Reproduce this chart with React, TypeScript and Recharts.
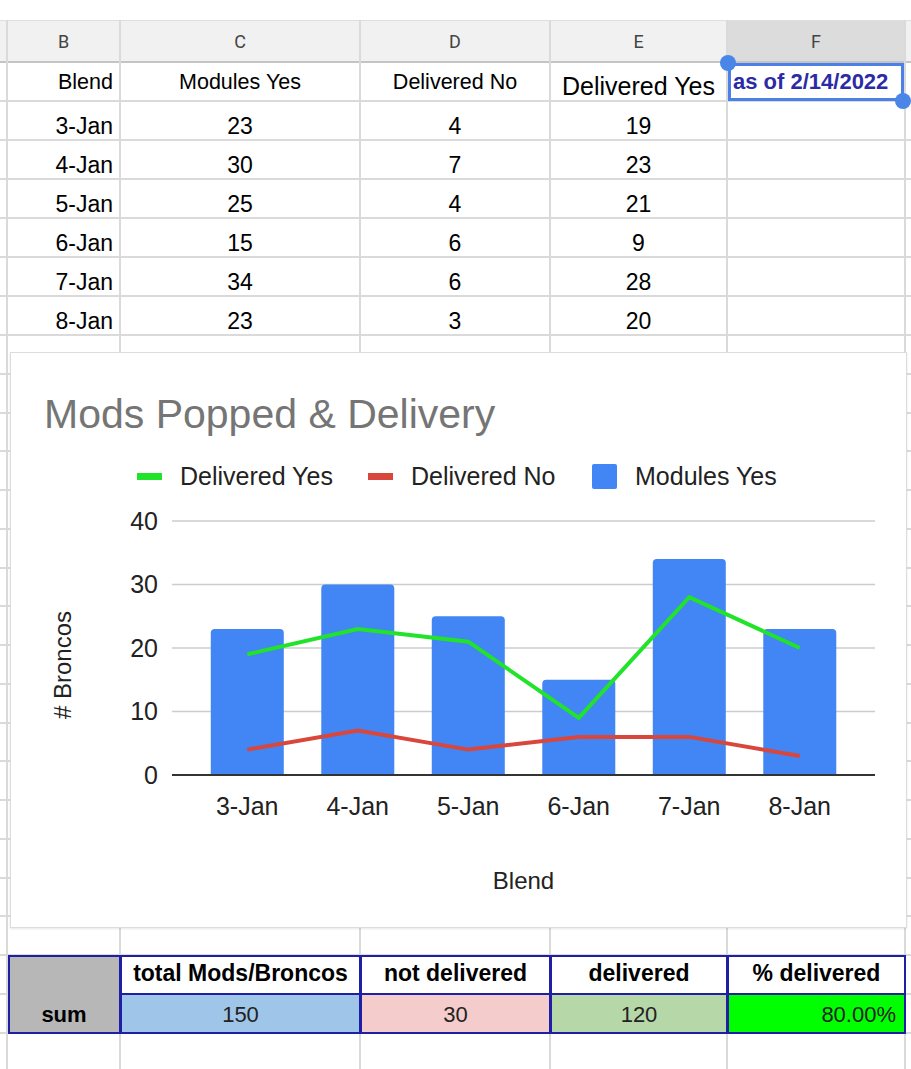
import { ComposedChart, Bar, Line, XAxis, YAxis, CartesianGrid, Legend, Label } from "recharts";

// sheet values
const blends = ["3-Jan", "4-Jan", "5-Jan", "6-Jan", "7-Jan", "8-Jan"];
const modulesYes = [23, 30, 25, 15, 34, 23];
const deliveredNo = [4, 7, 4, 6, 6, 3];
const deliveredYes = [19, 23, 21, 9, 28, 20];
const yTicks = [0, 10, 20, 30, 40];

const columnLetters = ["B", "C", "D", "E", "F"];
const headerLabels = ["Blend", "Modules Yes", "Delivered No", "Delivered Yes"];
const summaryLabels = ["total Mods/Broncos", "not delivered", "delivered", "% delivered"];
const asOfNote = "as of 2/14/2022";
const chartTitle = "Mods Popped & Delivery";
const yTitle = "# Broncos";
const xTitle = "Blend";

const chartData = blends.map((blend, i) => ({
  blend,
  modulesYes: modulesYes[i],
  deliveredNo: deliveredNo[i],
  deliveredYes: deliveredYes[i],
}));

const sum = (arr: number[]) => arr.reduce((a, b) => a + b, 0);
const totalMods = sum(modulesYes);
const totalNo = sum(deliveredNo);
const totalYes = sum(deliveredYes);
const summaryValues = [
  String(totalMods),
  String(totalNo),
  String(totalYes),
  ((totalYes / totalMods) * 100).toFixed(2) + "%",
];

const SHEET_FONT = '"Liberation Sans", Arial, sans-serif';
const CHART_FONT = '"Liberation Sans", Arial, sans-serif';
const BLUE = "#4285f4";
const RED = "#d9463b";
const GREEN = "#21e32a";
const TEXT = "#222222";

const COLS = [7, 120, 360, 550, 727, 905];
const GRID = "#dadada";

// row boundaries of the sheet
const rowLines: number[] = [];
for (let y = 62; y <= 335; y += 39) rowLines.push(y);
for (let y = 335 + 38.75; y < 1069; y += 38.75) rowLines.push(Math.round(y));

interface CellProps {
  x: number;
  y: number;
  w: number;
  h: number;
  text: string;
  align?: "left" | "center" | "right";
  size: number;
  padBottom: number;
  padX?: number;
  bold?: boolean;
  color?: string;
  bg?: string;
  border?: string;
}

function Cell({ x, y, w, h, text, align = "center", size, padBottom, padX = 7, bold, color = "#000", bg, border }: CellProps) {
  return (
    <div
      style={{
        position: "absolute",
        left: x,
        top: y,
        width: w,
        height: h,
        boxSizing: "border-box",
        display: "flex",
        alignItems: "flex-end",
        justifyContent: align === "left" ? "flex-start" : align === "right" ? "flex-end" : "center",
        paddingBottom: padBottom,
        paddingLeft: padX,
        paddingRight: padX,
        fontSize: size,
        lineHeight: 1,
        fontWeight: bold ? 700 : 400,
        color,
        background: bg,
        border,
        whiteSpace: "nowrap",
        overflow: "hidden",
      }}
    >
      {text}
    </div>
  );
}

const legendItems = [
  { label: headerLabels[3], color: GREEN, shape: "line", width: 231 },
  { label: headerLabels[2], color: RED, shape: "line", width: 224 },
  { label: headerLabels[1], color: BLUE, shape: "box", width: 200 },
];

function renderLegend() {
  return (
    <div style={{ display: "flex", alignItems: "center", height: 32, fontFamily: CHART_FONT, fontSize: 25, color: TEXT }}>
      {legendItems.map((item) => (
        <div key={item.label} style={{ display: "flex", alignItems: "center", width: item.width }}>
          {item.shape === "line" ? (
            <div style={{ width: 25, height: 7, background: item.color, marginRight: 18 }} />
          ) : (
            <div style={{ width: 25, height: 25, borderRadius: 2, background: item.color, marginRight: 18 }} />
          )}
          <span style={{ whiteSpace: "nowrap" }}>{item.label}</span>
        </div>
      ))}
    </div>
  );
}

function YTitle(props: any) {
  const vb = props.viewBox || { x: 0, y: 169, width: 162, height: 254 };
  const cx = vb.x + 52;
  const cy = vb.y + vb.height / 2 + 17;
  return (
    <text
      x={cx}
      y={cy}
      transform={`rotate(-90 ${cx} ${cy})`}
      textAnchor="middle"
      dominantBaseline="central"
      fill={TEXT}
      fontSize={24}
      fontFamily={CHART_FONT}
    >
      {yTitle}
    </text>
  );
}

function XTitle(props: any) {
  const vb = props.viewBox || { x: 162, y: 423, width: 703, height: 153 };
  return (
    <text
      x={vb.x + vb.width / 2}
      y={vb.y + 105}
      textAnchor="middle"
      dominantBaseline="central"
      fill={TEXT}
      fontSize={24}
      fontFamily={CHART_FONT}
    >
      {xTitle}
    </text>
  );
}

export default function App() {
  return (
    <div
      style={{
        position: "absolute",
        left: 0,
        top: 0,
        width: 911,
        height: 1069,
        background: "#fff",
        overflow: "hidden",
        fontFamily: SHEET_FONT,
      }}
    >
      {/* column header strip */}
      <div style={{ position: "absolute", left: 0, top: 20, width: 911, height: 42, background: "#f1f1f1" }} />
      <div style={{ position: "absolute", left: COLS[4], top: 20, width: COLS[5] - COLS[4], height: 42, background: "#dcdcdc" }} />
      <div style={{ position: "absolute", left: 0, top: 20, width: 911, height: 1, background: "#dedede" }} />

      {/* grid lines */}
      {rowLines.map((y, i) => (
        <div
          key={"r" + i}
          style={{
            position: "absolute",
            left: 0,
            top: y - 1,
            width: 911,
            height: 2,
            background: i === 0 ? "#c4c4c4" : GRID,
          }}
        />
      ))}
      {COLS.map((x, i) => (
        <div key={"c" + i} style={{ position: "absolute", left: x - 1, top: 20, width: 2, height: 1049, background: GRID }} />
      ))}

      {/* column letters */}
      {columnLetters.map((letter, i) => (
        <div
          key={letter}
          style={{
            position: "absolute",
            left: COLS[i],
            top: 20,
            width: COLS[i + 1] - COLS[i],
            height: 42,
            display: "flex",
            alignItems: "center",
            justifyContent: "center",
            fontFamily: "Roboto, sans-serif",
            fontSize: 18,
            color: "#444",
          }}
        >
          {letter}
        </div>
      ))}

      {/* header row */}
      <Cell x={COLS[0]} y={62} w={COLS[1] - COLS[0]} h={39} text={headerLabels[0]} align="right" size={21.5} padBottom={7.5} />
      <Cell x={COLS[1]} y={62} w={COLS[2] - COLS[1]} h={39} text={headerLabels[1]} size={21.5} padBottom={7.5} />
      <Cell x={COLS[2]} y={62} w={COLS[3] - COLS[2]} h={39} text={headerLabels[2]} size={21.5} padBottom={7.5} />
      <Cell x={COLS[3]} y={62} w={COLS[4] - COLS[3]} h={39} text={headerLabels[3]} size={25} padBottom={2.5} padX={2} />
      <Cell x={COLS[4]} y={62} w={COLS[5] - COLS[4]} h={39} text={asOfNote} align="left" size={22} padBottom={8.5} padX={6} bold color="#2b2ba6" />

      {/* data rows */}
      {chartData.map((row, i) => {
        const y = 101 + i * 39;
        return (
          <div key={row.blend}>
            <Cell x={COLS[0]} y={y} w={COLS[1] - COLS[0]} h={39} text={row.blend} align="right" size={23} padBottom={2.5} />
            <Cell x={COLS[1]} y={y} w={COLS[2] - COLS[1]} h={39} text={String(row.modulesYes)} size={23} padBottom={2.5} />
            <Cell x={COLS[2]} y={y} w={COLS[3] - COLS[2]} h={39} text={String(row.deliveredNo)} size={23} padBottom={2.5} />
            <Cell x={COLS[3]} y={y} w={COLS[4] - COLS[3]} h={39} text={String(row.deliveredYes)} size={23} padBottom={2.5} />
          </div>
        );
      })}

      {/* selection on F1 */}
      <div
        style={{
          position: "absolute",
          left: 728,
          top: 63,
          width: 176,
          height: 38,
          boxSizing: "border-box",
          border: "3px solid #4a80e8",
        }}
      />
      <div style={{ position: "absolute", left: 720, top: 55, width: 16, height: 16, borderRadius: 8, background: "#4a86e8" }} />
      <div style={{ position: "absolute", left: 895, top: 93, width: 16, height: 16, borderRadius: 8, background: "#4a86e8" }} />

      {/* chart card */}
      <div
        style={{
          position: "absolute",
          left: 10,
          top: 352,
          width: 897,
          height: 576,
          boxSizing: "border-box",
          background: "#fff",
          border: "1px solid #dcdcdc",
          boxShadow: "0 1px 2px rgba(0,0,0,0.10)",
        }}
      >
        <div style={{ position: "absolute", left: -1, top: -1 }}>
          <ComposedChart
            width={897}
            height={576}
            data={chartData}
            margin={{ top: 169, right: 32, bottom: 0, left: 0 }}
            barCategoryGap="17%"
          >
            <CartesianGrid horizontal vertical={false} stroke="#cccccc" strokeWidth={1.5} />
            <XAxis
              dataKey="blend"
              height={153}
              padding={{ left: 20, right: 20 }}
              interval={0}
              axisLine={{ stroke: "#333", strokeWidth: 2 }}
              tickLine={false}
              tickSize={6}
              tickMargin={16}
              tick={{ fill: TEXT, fontSize: 25, fontFamily: CHART_FONT }}
            >
              <Label content={<XTitle />} />
            </XAxis>
            <YAxis
              width={162}
              domain={[0, 40]}
              ticks={yTicks}
              axisLine={false}
              tickLine={false}
              tickSize={6}
              tickMargin={8}
              tick={{ fill: TEXT, fontSize: 25, fontFamily: CHART_FONT }}
            >
              <Label content={<YTitle />} />
            </YAxis>
            <Legend
              verticalAlign="middle"
              align="center"
              layout="horizontal"
              wrapperStyle={{ top: 108, left: 127, width: "auto" }}
              content={renderLegend}
            />
            <Bar dataKey="modulesYes" name={headerLabels[1]} fill={BLUE} radius={[4, 4, 0, 0]} isAnimationActive={false} />
            <Line
              type="linear"
              dataKey="deliveredNo"
              name={headerLabels[2]}
              stroke={RED}
              strokeWidth={4}
              dot={false}
              activeDot={false}
              isAnimationActive={false}
            />
            <Line
              type="linear"
              dataKey="deliveredYes"
              name={headerLabels[3]}
              stroke={GREEN}
              strokeWidth={4}
              dot={false}
              activeDot={false}
              isAnimationActive={false}
            />
          </ComposedChart>
        </div>
        <div
          style={{
            position: "absolute",
            left: 33,
            top: 41,
            fontFamily: CHART_FONT,
            fontSize: 41,
            lineHeight: 1,
            color: "#757575",
            whiteSpace: "nowrap",
          }}
        >
          {chartTitle}
        </div>
      </div>

      {/* summary table */}
      <div
        style={{
          position: "absolute",
          left: 8,
          top: 955,
          width: COLS[1] - 8 + 1,
          height: 79,
          boxSizing: "border-box",
          background: "#b7b7b7",
          border: "2px solid #1f1fa5",
        }}
      />
      <Cell x={8} y={955} w={COLS[1] - 8} h={78} text="sum" size={22} padBottom={7} bold />
      {summaryLabels.map((label, i) => (
        <Cell
          key={label}
          x={COLS[i + 1]}
          y={955}
          w={COLS[i + 2] - COLS[i + 1] + 1}
          h={40}
          text={label}
          size={23}
          padBottom={8}
          padX={2}
          bold
          bg="#fff"
          border="2px solid #1f1fa5"
        />
      ))}
      {summaryValues.map((value, i) => (
        <Cell
          key={"v" + i}
          x={COLS[i + 1]}
          y={993}
          w={COLS[i + 2] - COLS[i + 1] + 1}
          h={41}
          text={value}
          align={i === 3 ? "right" : "center"}
          size={22}
          padBottom={6}
          padX={8}
          bg={["#9fc5e8", "#f4cccc", "#b6d7a8", "#00ff00"][i]}
          border="2px solid #1f1fa5"
          color="#222"
        />
      ))}
    </div>
  );
}
